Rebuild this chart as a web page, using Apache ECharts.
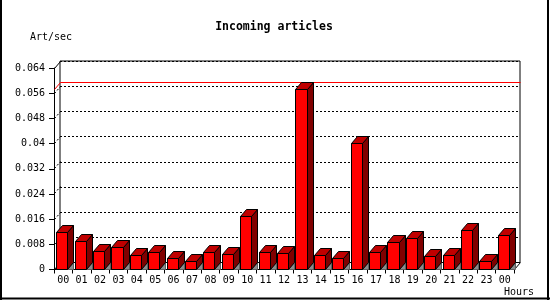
<!DOCTYPE html>
<html><head><meta charset="utf-8">
<script src="https://cdn.jsdelivr.net/npm/echarts@6/dist/echarts.min.js"></script>
<style>html,body{margin:0;padding:0;background:#fff}#c{width:550px;height:300px}</style>
</head><body><div id="c"></div>
<script>
const hours = ['00','01','02','03','04','05','06','07','08','09','10','11','12','13','14','15','16','17','18','19','20','21','22','23','00'];
const articlesPerSec = [0.0118,0.0088,0.0057,0.0069,0.0043,0.0053,0.0034,0.0024,0.0053,0.0047,0.0167,0.0053,0.0050,0.0573,0.0043,0.0034,0.0401,0.0053,0.0085,0.0100,0.0040,0.0043,0.0123,0.0024,0.0107];
const yTicks = [0,0.008,0.016,0.024,0.032,0.04,0.048,0.056,0.064];
const titleText = 'Incoming articles';
const yName = 'Art/sec';
const xName = 'Hours';

const DX = 6, DY = 7;
const FONT = "'DejaVu Sans Mono', monospace";
const yMin = yTicks[0], yMax = yTicks[yTicks.length - 1], yStep = yTicks[1] - yTicks[0];
const maxVal = Math.max.apply(null, articlesPerSec);

function px(v){ return Math.round(v - 0.5) + 0.5; }

const chart = echarts.init(document.getElementById('c'), null, {renderer:'canvas'});
chart.setOption({
  backgroundColor: '#fff',
  animation: false,
  grid: [
    {left:54, right:36, top:68, bottom:30.5},
    {left:54+DX, right:36-DX, top:68-DY, bottom:30.5+DY, show:true, borderColor:'#000', borderWidth:1, backgroundColor:'transparent'}
  ],
  xAxis: [
    {gridIndex:0, type:'category', data:hours,
      axisLine:{show:true, lineStyle:{color:'#000', width:1}},
      axisTick:{show:true, length:4, interval:0, lineStyle:{color:'#000'}},
      axisLabel:{interval:0, color:'#000', fontSize:10, fontFamily:FONT, margin:6},
      splitLine:{show:false}},
    {gridIndex:1, type:'category', data:hours, show:false}
  ],
  yAxis: [
    {gridIndex:0, type:'value', min:yMin, max:yMax, interval:yStep,
      axisLine:{show:true, lineStyle:{color:'#000', width:1}},
      axisTick:{show:true, length:5, lineStyle:{color:'#000'}},
      axisLabel:{color:'#000', fontSize:10, fontFamily:FONT, margin:9,
        formatter: v => String(+v.toFixed(3))},
      splitLine:{show:false}},
    {gridIndex:1, type:'value', min:yMin, max:yMax, interval:yStep,
      axisLine:{show:false}, axisTick:{show:false}, axisLabel:{show:false},
      splitLine:{show:true, lineStyle:{color:'#000', width:1, type:[2,2]}}}
  ],
  graphic: [
    {type:'line', shape:{x1:1, y1:0, x2:1, y2:300}, style:{stroke:'#000', lineWidth:2}},
    {type:'line', shape:{x1:548, y1:0, x2:548, y2:300}, style:{stroke:'#000', lineWidth:2}},
    {type:'line', shape:{x1:0, y1:298.5, x2:550, y2:298.5}, style:{stroke:'#000', lineWidth:2}},
    {type:'text', x:274, y:27, style:{text:titleText, font:"bold 11.5px 'DejaVu Sans Mono', monospace", fill:'#000', textAlign:'center', textVerticalAlign:'middle'}},
    {type:'text', x:30, y:37, style:{text:yName, font:"10px 'DejaVu Sans Mono', monospace", fill:'#000', textAlign:'left', textVerticalAlign:'middle'}},
    {type:'text', x:534, y:292, style:{text:xName, font:"10px 'DejaVu Sans Mono', monospace", fill:'#000', textAlign:'right', textVerticalAlign:'middle'}}
  ],
  series: [
    // diagonal connectors from y axis to back plane at each tick
    {type:'custom', xAxisIndex:0, yAxisIndex:0, z:2, silent:true,
      data: yTicks.map(v => [0, v]),
      renderItem: function(params, api){
        const bw = api.size([1,0])[0];
        const c = api.coord([0, api.value(1)]);
        const x0 = px(c[0] - bw/2), y = px(c[1]);
        const v = api.value(1);
        const solid = (v === yMin || v === yMax);
        const children = [{type:'line', shape:{x1:x0, y1:y, x2:x0+DX, y2:y-DY},
          style:{stroke:'#000', lineWidth:1, lineDash: solid ? null : [2,2]}}];
        if (v === yMin) {
          const xr = px(api.coord([hours.length-1, 0])[0] + bw/2);
          children.push({type:'line', shape:{x1:xr, y1:y, x2:xr+DX, y2:y-DY}, style:{stroke:'#000', lineWidth:1}});
        }
        return {type:'group', children};
      }},
    // max line
    {type:'custom', xAxisIndex:0, yAxisIndex:0, z:3, silent:true,
      data: [[0, maxVal]],
      renderItem: function(params, api){
        const bw = api.size([1,0])[0];
        const c = api.coord([0, api.value(1)]);
        const x0 = px(c[0] - bw/2), y = px(c[1]);
        const xr = px(api.coord([hours.length-1, 0])[0] + bw/2);
        return {type:'polyline', shape:{points:[[x0,y],[x0+DX,y-DY],[xr+DX,y-DY]]},
          style:{stroke:'#ff0000', lineWidth:1, fill:null}};
      }},
    // 3D bars
    {type:'custom', xAxisIndex:0, yAxisIndex:0, z:5, silent:true,
      data: articlesPerSec.map((v,i) => [i, v]),
      renderItem: function(params, api){
        const i = api.value(0), v = api.value(1);
        const bw = api.size([1,0])[0];
        const c = api.coord([i, v]);
        const b = api.coord([i, 0]);
        const xl = px(c[0] - bw*0.35);
        const xr = px(c[0] - bw*0.35 + bw*0.6);
        const top = px(c[1]);
        const base = px(b[1]);
        const line = {stroke:'#000', lineWidth:1};
        return {type:'group', children:[
          {type:'polygon', shape:{points:[[xr,base],[xr+DX,base-DY],[xr+DX,base]]},
            style:{fill:'#8c8c8c', stroke:'#606060', lineWidth:1}},
          {type:'polygon', shape:{points:[[xr,top],[xr+DX,top-DY],[xr+DX,base-DY],[xr,base]]},
            style:Object.assign({fill:'#800000'}, line)},
          {type:'polygon', shape:{points:[[xl,top],[xl+DX,top-DY],[xr+DX,top-DY],[xr,top]]},
            style:Object.assign({fill:'#c00000'}, line)},
          {type:'rect', shape:{x:xl, y:top, width:xr-xl, height:base-top},
            style:Object.assign({fill:'#ff0000'}, line)}
        ]};
      }}
  ]
});
</script>
</body></html>
